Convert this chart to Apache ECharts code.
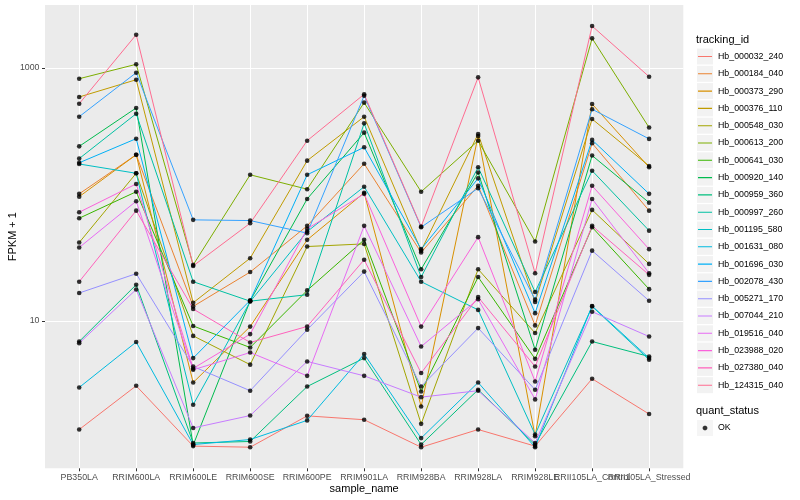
<!DOCTYPE html>
<html><head><meta charset="utf-8">
<script src="https://cdn.jsdelivr.net/npm/echarts@6/dist/echarts.min.js"></script>
<style>html,body{margin:0;padding:0;background:#fff}#c{width:800px;height:500px}</style>
</head><body><div id="c"></div>
<script>
const categories = ['PB350LA','RRIM600LA','RRIM600LE','RRIM600SE','RRIM600PE','RRIM901LA','RRIM928BA','RRIM928LA','RRIM928LE','RRII105LA_Control','RRII105LA_Stressed'];
const trackingIds = ['Hb_000032_240','Hb_000184_040','Hb_000373_290','Hb_000376_110','Hb_000548_030','Hb_000613_200','Hb_000641_030','Hb_000920_140','Hb_000959_360','Hb_000997_260','Hb_001195_580','Hb_001631_080','Hb_001696_030','Hb_002078_430','Hb_005271_170','Hb_007044_210','Hb_019516_040','Hb_023988_020','Hb_027380_040','Hb_124315_040'];
const colors = ['#F8766D','#EA8331','#D89000','#C09B00','#A3A500','#7CAE00','#39B600','#00BB4E','#00BF7D','#00C1A3','#00BFC4','#00BAE0','#00B0F6','#35A2FF','#9590FF','#C77CFF','#E76BF3','#FA62DB','#FF62BC','#FF6C91'];
const yTickLabels = [10, 1000];

const Hb_000032_240 = [1.38, 3.06, 1.02, 1.0, 1.77, 1.65, 1.0, 1.38, 1.02, 3.48, 1.83];
const Hb_000184_040 = [101, 206, 13.0, 24.3, 56.4, 175, 34.7, 117, 9.2, 254, 74.4];
const Hb_000373_290 = [96, 206, 3.25, 9.0, 43.7, 103, 2.1, 290, 1.22, 519, 164];
const Hb_000376_110 = [590, 808, 13.9, 31.3, 185, 412, 35.9, 301, 14.1, 395, 168];
const Hb_000548_030 = [41.6, 147, 7.6, 4.5, 38.7, 40.6, 1.53, 25.6, 8.0, 75.4, 28.2];
const Hb_000613_200 = [823, 1070, 27.7, 143, 110, 532, 105, 266, 42.4, 1717, 338];
const Hb_000641_030 = [64.8, 105, 9.1, 6.15, 17.4, 43.7, 2.76, 22.2, 5.0, 55.0, 17.8];
const Hb_000920_140 = [240, 483, 1.04, 14.4, 92.1, 308, 25.6, 149, 5.9, 203, 86.1];
const Hb_000959_360 = [6.86, 19.3, 1.08, 1.11, 3.02, 5.07, 1.05, 2.85, 1.05, 6.86, 5.22];
const Hb_000997_260 = [192, 435, 20.4, 14.3, 16.1, 365, 22.2, 164, 16.9, 154, 51.7];
const Hb_001195_580 = [174, 147, 2.17, 14.2, 50.8, 115, 20.4, 12.2, 1.26, 13.0, 4.92];
const Hb_001631_080 = [2.97, 6.79, 1.05, 1.15, 1.63, 5.46, 1.18, 3.25, 1.0, 13.1, 5.07];
const Hb_001696_030 = [178, 276, 5.07, 14.5, 143, 236, 36.9, 134, 11.5, 270, 101];
const Hb_002078_430 = [412, 918, 62.9, 62.1, 49.4, 604, 55.0, 112, 14.7, 472, 275];
const Hb_005271_170 = [16.6, 23.6, 4.35, 2.80, 8.5, 24.5, 3.02, 8.76, 2.85, 35.9, 14.4];
const Hb_007044_210 = [6.66, 17.7, 1.42, 1.78, 4.77, 3.67, 2.49, 2.80, 1.08, 11.8, 7.51];
const Hb_019516_040 = [38.0, 88.4, 4.10, 5.61, 3.67, 56.4, 6.26, 14.8, 2.39, 92.1, 23.8];
const Hb_023988_020 = [72.3, 121, 4.20, 7.85, 53.4, 101, 9.0, 45.9, 3.31, 117, 36.9];
const Hb_027380_040 = [20.4, 74.4, 12.4, 6.74, 9.02, 30.4, 3.86, 15.4, 4.35, 56.4, 23.1];
const Hb_124315_040 = [522, 1834, 27.2, 59.2, 266, 620, 55.7, 844, 23.8, 2148, 854];

const seriesValues = [Hb_000032_240, Hb_000184_040, Hb_000373_290, Hb_000376_110, Hb_000548_030,
  Hb_000613_200, Hb_000641_030, Hb_000920_140, Hb_000959_360, Hb_000997_260, Hb_001195_580,
  Hb_001631_080, Hb_001696_030, Hb_002078_430, Hb_005271_170, Hb_007044_210, Hb_019516_040,
  Hb_023988_020, Hb_027380_040, Hb_124315_040];

const FONT = '"Liberation Sans", Arial, Helvetica, sans-serif';
const LINE_ICON = 'path://M0,0h0.01v0.01h-0.01zM1,7.45h14v1.1h-14zM15.99,15.99h0.01v0.01h-0.01z';
const DOT_ICON = 'path://M0,0h0.01v0.01h-0.01zM7.05,5.7h1.9l1.35,1.35v1.9l-1.35,1.35h-1.9l-1.35,-1.35v-1.9zM15.99,15.99h0.01v0.01h-0.01z';
const catIdx = categories.map((c, i) => i);
// labels split over two axes so that the overlapping pair is never auto-hidden
const labelIdxA = catIdx.filter(i => i % 2 === 0);
const labelIdxB = catIdx.filter(i => i % 2 === 1);

const lineSeries = trackingIds.map((id, k) => ({
  name: id, type: 'line', symbol: 'none', color: colors[k],
  lineStyle: { width: 1, color: colors[k] },
  data: seriesValues[k].map((v, i) => [i, v]), z: 2, silent: true
}));
const points = [];
seriesValues.forEach(arr => arr.forEach((v, i) => points.push([i, v])));
const pointSeries = { name: 'OK', type: 'scatter', symbol: 'circle', symbolSize: 4.6,
  itemStyle: { color: '#000' }, data: points, z: 3, silent: true };

const legendBase = { orient: 'vertical', left: 697, itemWidth: 16, itemHeight: 16, itemGap: 1.3,
  padding: 0, selectedMode: false };

const catFormatter = v => (Math.abs(v - Math.round(v)) < 1e-6 && categories[Math.round(v)]) ? categories[Math.round(v)] : '';
function xAxisDef(labelIdx, main) {
  return {
    type: 'value', position: 'bottom', min: -0.6, max: 10.6, minInterval: 1, maxInterval: 1, splitNumber: 11,
    axisLine: { show: false, onZero: false },
    axisTick: { show: main, length: 3, lineStyle: { color: '#333333', width: 1 }, customValues: catIdx },
    axisLabel: { customValues: labelIdx, color: '#4D4D4D', fontSize: 8.8, margin: 5, fontFamily: FONT,
      hideOverlap: false, formatter: catFormatter },
    splitLine: { show: main, lineStyle: { color: '#FFFFFF', width: 1 } },
    name: main ? 'sample_name' : '', nameLocation: 'middle', nameGap: 15, nameMoveOverlap: false,
    nameTextStyle: { color: '#000', fontSize: 11, fontFamily: FONT }
  };
}

const option = {
  animation: false,
  backgroundColor: '#fff',
  textStyle: { fontFamily: FONT },
  title: [
    { text: 'tracking_id', left: 696, top: 34, padding: 0, textStyle: { fontSize: 11, fontWeight: 'normal', color: '#000', fontFamily: FONT } },
    { text: 'quant_status', left: 696, top: 405, padding: 0, textStyle: { fontSize: 11, fontWeight: 'normal', color: '#000', fontFamily: FONT } }
  ],
  grid: { left: 45, right: 116.7, top: 5, bottom: 31.7, show: true, backgroundColor: '#EBEBEB', borderWidth: 0, containLabel: false, outerBoundsMode: 'none' },
  xAxis: [xAxisDef(labelIdxA, true), xAxisDef(labelIdxB, false)],
  yAxis: {
    type: 'log', logBase: 10, min: 0.681, max: 3152,
    axisLine: { show: false, onZero: false },
    axisTick: { show: true, length: 3, lineStyle: { color: '#333333', width: 1 }, customValues: yTickLabels },
    axisLabel: { customValues: yTickLabels, color: '#4D4D4D', fontSize: 8.8, margin: 5.5, fontFamily: FONT,
      hideOverlap: false,
      formatter: v => (yTickLabels.indexOf(v) >= 0 ? String(v) : '') },
    splitLine: { show: true, lineStyle: { color: '#FFFFFF', width: 1 } },
    name: 'FPKM + 1', nameLocation: 'middle', nameGap: 26.5, nameMoveOverlap: false,
    nameTextStyle: { color: '#000', fontSize: 11, fontFamily: FONT }
  },
  legend: [
    Object.assign({}, legendBase, { top: 48.5, data: trackingIds, icon: 'rect',
      itemStyle: { color: '#F2F2F2', borderWidth: 0 }, textStyle: { color: 'rgba(0,0,0,0)', fontSize: 8.8, fontFamily: FONT } }),
    Object.assign({}, legendBase, { top: 48.5, icon: LINE_ICON,
      data: trackingIds.map((n, k) => ({ name: n, itemStyle: { color: colors[k], borderWidth: 0 } })),
      textStyle: { color: '#000', fontSize: 8.8, fontFamily: FONT } }),
    Object.assign({}, legendBase, { top: 420, data: ['OK'], icon: 'rect',
      itemStyle: { color: '#F2F2F2', borderWidth: 0 }, textStyle: { color: 'rgba(0,0,0,0)', fontSize: 8.8, fontFamily: FONT } }),
    Object.assign({}, legendBase, { top: 420, icon: DOT_ICON,
      data: [{ name: 'OK', itemStyle: { color: '#000', borderWidth: 0 } }],
      textStyle: { color: '#000', fontSize: 8.8, fontFamily: FONT } })
  ],
  series: lineSeries.concat([pointSeries])
};
const chart = echarts.init(document.getElementById('c'), null, { renderer: 'canvas' });
chart.setOption(option);
</script></body></html>
